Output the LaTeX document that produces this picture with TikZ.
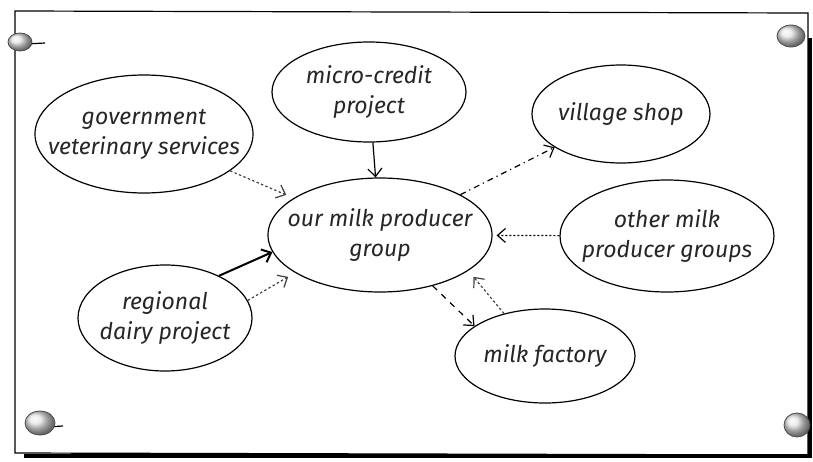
\documentclass[tikz,border=0pt]{standalone}
\usepackage{fontspec}
\setmainfont{Fira Sans}
\usetikzlibrary{shapes.geometric,arrows.meta}
\tikzset{
  words/.style={align=center, font=\fontsize{11.5}{15}\selectfont\itshape, text=black!85},
  bubble/.style={draw, ellipse, inner sep=0pt, line width=0.6pt},
  link/.style={-{Straight Barb[length=4pt,width=7pt]}, line width=0.6pt},
  faint/.style={dash pattern=on 1.2pt off 1.2pt, draw=black!75},
  pin/.style={ball color=gray!20, draw=black!70, line width=0.4pt}
}
\begin{document}
\begin{tikzpicture}[x=0.5pt,y=-0.5pt]
\useasboundingbox (0,0) rectangle (813,461);
% sheet and its shadow
\draw[line width=0.6pt] (15,453) -- (15,11) -- (808,13) -- (808,455) -- cycle;
\draw[line width=2pt] (24,456) -- (810,456) -- (810,38);
% pins
\draw[line width=0.6pt] (26,44) -- (45,43);
\draw[line width=0.6pt] (46,427) -- (63,426);
\draw[pin] (20,42) ellipse [x radius=12, y radius=9];
\draw[pin] (791,36) ellipse [x radius=14, y radius=11];
\draw[pin] (40,423) ellipse [x radius=15, y radius=12];
\draw[pin] (797,425) ellipse [x radius=13, y radius=12];
% actors
\node[bubble, minimum width=109pt, minimum height=59pt, label={[words]center:government\\veterinary services}] (gov) at (144,134) {};
\node[bubble, minimum width=97pt, minimum height=50pt, label={[words]center:micro-credit\\project}] (credit) at (369,92) {};
\node[bubble, minimum width=89pt, minimum height=49pt, label={[words]center:village shop}] (shop) at (621,114) {};
\node[bubble, minimum width=112pt, minimum height=57pt, label={[words]center:our milk producer\\group}] (group) at (380,235) {};
\node[bubble, minimum width=107pt, minimum height=56pt, label={[words]center:other milk\\producer groups}] (other) at (667,236) {};
\node[bubble, minimum width=87pt, minimum height=53pt, label={[words]center:regional\\dairy project}] (dairy) at (165,318) {};
\node[bubble, minimum width=90pt, minimum height=47pt, label={[words]center:milk factory}] (factory) at (545,356) {};
% links
\draw[link] (credit) -- (group);
\draw[link, faint, shorten >=4pt] (gov) -- (group);
\draw[link, dash dot] (group) -- (shop);
\draw[link, dash pattern=on 1pt off 1pt, shorten >=2pt] (other) -- (group);
\draw[link, line width=1pt] (dairy.38) -- (group.189);
\draw[link, faint, shorten >=4pt] (dairy.12) -- (group.204);
\draw[link, dashed] (group.-44) -- (factory.157);
\draw[link, faint, shorten >=4pt] (factory.134) -- (group.-22);
\end{tikzpicture}
\end{document}
